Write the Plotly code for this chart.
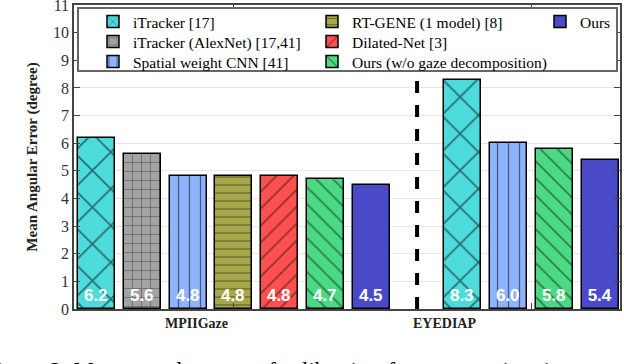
import plotly.graph_objects as go

# data
methods = ["iTracker [17]", "iTracker (AlexNet) [17,41]", "Spatial weight CNN [41]",
           "RT-GENE (1 model) [8]", "Dilated-Net [3]", "Ours (w/o gaze decomposition)", "Ours"]
mpii_err = [6.2, 5.6, 4.8, 4.8, 4.8, 4.7, 4.5]
eyediap_methods = ["iTracker [17]", "Spatial weight CNN [41]", "Ours (w/o gaze decomposition)", "Ours"]
eyediap_err = [8.3, 6.0, 5.8, 5.4]
datasets = ["MPIIGaze", "EYEDIAP"]
y_ticks = list(range(0, 12))

# styles
colors = ["#4ddbdb", "#a3a3a3", "#8fb4ff", "#a6a64a", "#ff5050", "#4cd984", "#4a4ac8"]
shapes_ = ["x", "+", "|", "-", "/", "\\", ""]
psize = [26, 9, 11, 8, 12, 12, 8]
# legend grid (column, row) of each method, like the 3-column matlab legend
leg_pos = [(0, 0), (0, 1), (0, 2), (1, 0), (1, 1), (1, 2), (2, 0)]
leg_col_px = [93, 312, 540]
leg_row_px = [5, 25, 45]

serif = "Liberation Serif, Times New Roman, serif"
W, H = 624, 364
ML, MR, MT, MB = 74, 4, 5, 55
pw, ph = W - ML - MR, H - MT - MB


def px_x(v):
    return (v - ML) / pw


def px_y(v):
    return 1 - (v - MT) / ph


fig = go.Figure()

# slot positions: MPII bars 0..6, gap, EYEDIAP bars 8..11
mpii_x = list(range(len(methods)))
gap_x = len(methods)
eye_x = [gap_x + 1 + i for i in range(len(eyediap_methods))]

leg_style = dict(orientation="v", xanchor="left", yanchor="top", bgcolor="rgba(0,0,0,0)",
                 borderwidth=0, font=dict(family=serif, size=15.5, color="black"),
                 itemwidth=30)
legends = {}

for i, m in enumerate(methods):
    xs = [mpii_x[i]]
    ys = [mpii_err[i]]
    if m in eyediap_methods:
        j = eyediap_methods.index(m)
        xs.append(eye_x[j])
        ys.append(eyediap_err[j])
    lname = "legend" if i == 0 else f"legend{i + 1}"
    c, r = leg_pos[i]
    legends[lname] = dict(x=px_x(leg_col_px[c]), y=px_y(leg_row_px[r]), **leg_style)
    fig.add_trace(go.Bar(
        x=xs, y=ys, name=m, width=0.81,
        text=[f"<b>{v:.1f}</b>" for v in ys],
        textposition="inside", insidetextanchor="start",
        textfont=dict(family="Liberation Sans, Arial, sans-serif", size=17, color="white"),
        textangle=0,
        marker=dict(color=colors[i], line=dict(color="black", width=1.5),
                    pattern=dict(shape=shapes_[i], fgcolor="black", size=psize[i],
                                 solidity=0.12)),
        legend=lname,
    ))

# dashed separator between the two datasets
fig.add_shape(type="line", x0=gap_x, x1=gap_x, y0=0, y1=11, xref="x", yref="y",
              line=dict(color="black", width=4, dash="dash"))
# legend frame
fig.add_shape(type="rect", xref="paper", yref="paper",
              x0=px_x(78), x1=px_x(617), y0=px_y(71), y1=px_y(8),
              fillcolor="white", line=dict(color="#666", width=2), layer="above")

centers = [sum(mpii_x) / len(mpii_x), sum(eye_x) / len(eye_x)]
label_x = [centers[0] - 0.81, centers[1] - 1.9]
for lx, name in zip(label_x, datasets):
    fig.add_annotation(x=lx, y=0, xref="x", yref="y", yshift=-14, text=f"<b>{name}</b>",
                       showarrow=False, font=dict(family=serif, size=14, color="#222"))

# caption cut off at the bottom of the image
fig.add_annotation(x=px_x(-18), y=px_y(356), xref="paper", yref="paper", xanchor="left", yanchor="top",
                   text="Figure 2: Mean angular error of calibration-free gaze estimation on",
                   showarrow=False, font=dict(family=serif, size=23, color="black"))

fig.update_layout(
    width=W, height=H,
    margin=dict(l=ML, r=MR, t=MT, b=MB, autoexpand=False),
    plot_bgcolor="white", paper_bgcolor="white",
    bargap=0, barmode="overlay",
    showlegend=True,
    font=dict(family=serif),
    **legends,
)
fig.update_xaxes(range=[-0.49, 11.43], tickvals=centers, ticktext=["", ""], ticks="inside",
                 ticklen=6, tickcolor="#444", showline=True, linecolor="#444", linewidth=1.5,
                 mirror="allticks", showgrid=False, zeroline=False, automargin=False)
fig.update_yaxes(range=[0, 11], tickvals=y_ticks, ticks="inside", ticklen=6, tickcolor="#444",
                 showline=True, linecolor="#444", linewidth=1.5, mirror="allticks",
                 showgrid=True, gridcolor="#e6e6e6", zeroline=False, automargin=False,
                 ticklabeloverflow="allow",
                 tickfont=dict(family=serif, size=16, color="#333"),
                 title=dict(text="<b>Mean Angular Error (degree)</b>", standoff=12,
                            font=dict(family=serif, size=15, color="#222")))

# the page body has a default 8px margin; drop it so the figure sits at the corner
fig.write_html("out.html", config={"displayModeBar": False},
               post_script="document.body.style.margin='0';document.body.style.overflow='hidden';")
